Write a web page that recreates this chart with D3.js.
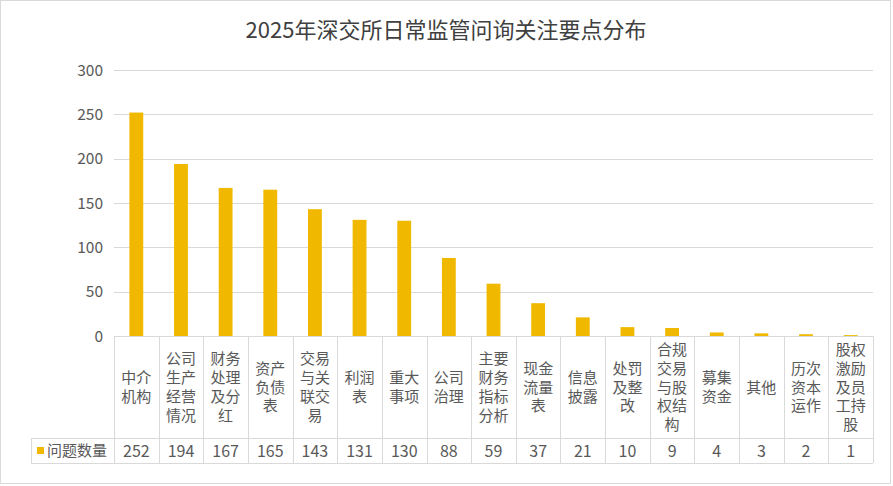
<!DOCTYPE html>
<html>
<head>
<meta charset="utf-8">
<script src="https://cdn.jsdelivr.net/npm/d3@7"></script>
<style>
  html, body { margin: 0; padding: 0; background: #fff; }
  svg { display: block; font-family: "Noto Sans CJK SC", "Noto Sans", sans-serif; }
</style>
</head>
<body>
<svg id="chart" width="893" height="486"></svg>
<script>
'use strict';

var categories = ['中介机构', '公司生产经营情况', '财务处理及分红', '资产负债表', '交易与关联交易',
  '利润表', '重大事项', '公司治理', '主要财务指标分析', '现金流量表', '信息披露', '处罚及整改',
  '合规交易与股权结构', '募集资金', '其他', '历次资本运作', '股权激励及员工持股'];
var counts = [252, 194, 167, 165, 143, 131, 130, 88, 59, 37, 21, 10, 9, 4, 3, 2, 1];
var yTicks = [0, 50, 100, 150, 200, 250, 300];
var seriesName = '问题数量';
var title = '2025年深交所日常监管问询关注要点分布';

var barColor = '#F0B900';
var gridColor = '#d9d9d9';
var textColor = '#595959';

var svg = d3.select('#chart');

// outer frame
svg.append('rect')
  .attr('x', 0.5).attr('y', 0.5)
  .attr('width', 890).attr('height', 483)
  .attr('fill', '#fff')
  .attr('stroke', '#d9d9d9');

svg.append('text')
  .attr('x', 446).attr('y', 38)
  .attr('text-anchor', 'middle')
  .attr('font-size', '22px')
  .attr('fill', '#404040')
  .text(title);

var plotLeft = 114, plotRight = 873, plotTop = 70, base = 336;
var headBottom = 438, rowBottom = 463, legendLeft = 31;

var x = d3.scaleBand()
  .domain(categories)
  .range([plotLeft, plotRight])
  .paddingInner(0)
  .paddingOuter(0);

var y = d3.scaleLinear()
  .domain([0, 300])
  .range([base, plotTop]);

// gridlines
svg.append('g')
  .selectAll('line')
  .data(yTicks.slice(1))
  .enter().append('line')
  .attr('x1', plotLeft).attr('x2', plotRight)
  .attr('y1', function (d) { return Math.round(y(d)) + 0.5; })
  .attr('y2', function (d) { return Math.round(y(d)) + 0.5; })
  .attr('stroke', gridColor);

// y axis labels
svg.append('g')
  .selectAll('text')
  .data(yTicks)
  .enter().append('text')
  .attr('x', 103)
  .attr('y', function (d) { return y(d) + 5.5; })
  .attr('text-anchor', 'end')
  .attr('font-size', '15.5px')
  .attr('fill', textColor)
  .text(function (d) { return d; });

// bars
var bw = x.bandwidth() * 0.31;
svg.append('g')
  .selectAll('rect')
  .data(counts)
  .enter().append('rect')
  .attr('x', function (d, i) { return x(categories[i]) + x.bandwidth() / 2 - bw / 2; })
  .attr('y', function (d) { return y(d); })
  .attr('width', bw)
  .attr('height', function (d) { return base - y(d); })
  .attr('fill', barColor);

// data table
var table = svg.append('g')
  .attr('stroke', gridColor)
  .attr('fill', 'none');

table.append('line')
  .attr('x1', plotLeft).attr('x2', plotRight)
  .attr('y1', base + 0.5).attr('y2', base + 0.5);
table.append('line')
  .attr('x1', legendLeft).attr('x2', plotRight)
  .attr('y1', headBottom + 0.5).attr('y2', headBottom + 0.5);
table.append('line')
  .attr('x1', legendLeft).attr('x2', plotRight)
  .attr('y1', rowBottom + 0.5).attr('y2', rowBottom + 0.5);
table.append('line')
  .attr('x1', legendLeft + 0.5).attr('x2', legendLeft + 0.5)
  .attr('y1', headBottom).attr('y2', rowBottom);

var edges = categories.map(function (c) { return x(c); }).concat([plotRight]);
table.selectAll('line.v')
  .data(edges)
  .enter().append('line')
  .attr('class', 'v')
  .attr('x1', function (d) { return Math.round(d) + 0.5; })
  .attr('x2', function (d) { return Math.round(d) + 0.5; })
  .attr('y1', base).attr('y2', rowBottom);

// category labels, two characters per line
var lineH = 18.7;
var heads = svg.append('g')
  .selectAll('text')
  .data(categories)
  .enter().append('text')
  .attr('text-anchor', 'middle')
  .attr('font-size', '15px')
  .attr('fill', textColor);

heads.each(function (d) {
  var lines = [];
  for (var i = 0; i < d.length; i += 2) { lines.push(d.slice(i, i + 2)); }
  var cx = x(d) + x.bandwidth() / 2;
  var mid = (base + headBottom) / 2;
  var y0 = mid - (lines.length - 1) * lineH / 2;
  d3.select(this).selectAll('tspan')
    .data(lines)
    .enter().append('tspan')
    .attr('x', cx)
    .attr('y', function (l, k) { return y0 + k * lineH + 5.5; })
    .text(function (l) { return l; });
});

// values row
svg.append('g')
  .selectAll('text')
  .data(counts)
  .enter().append('text')
  .attr('x', function (d, i) { return x(categories[i]) + x.bandwidth() / 2; })
  .attr('y', (headBottom + rowBottom) / 2 + 6)
  .attr('text-anchor', 'middle')
  .attr('font-size', '16px')
  .attr('fill', textColor)
  .text(function (d) { return d; });

// legend key
svg.append('rect')
  .attr('x', 37).attr('y', 447)
  .attr('width', 7).attr('height', 7)
  .attr('fill', barColor);
svg.append('text')
  .attr('x', 47).attr('y', (headBottom + rowBottom) / 2 + 5.5)
  .attr('font-size', '15px')
  .attr('fill', textColor)
  .text(seriesName);
</script>
</body>
</html>
